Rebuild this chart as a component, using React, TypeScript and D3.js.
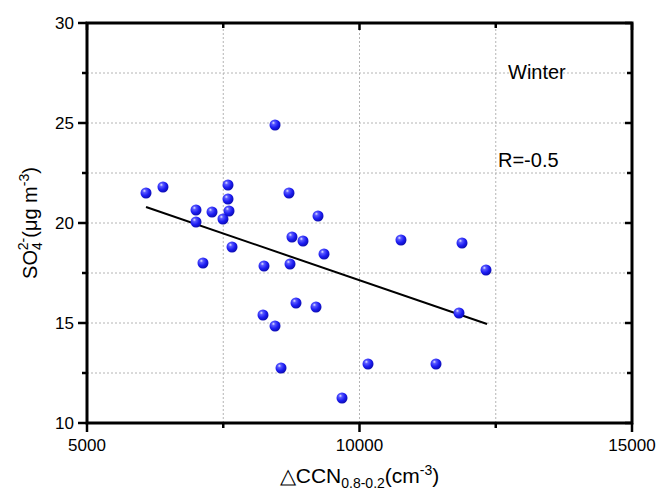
import React from 'react';
import * as d3 from 'd3';

// ΔCCN (cm-3) vs SO4 2- (µg m-3), winter samples
const ccnValues = [
  6083, 6394, 7000, 7000, 7128, 7294, 7495, 7587, 7587, 7606,
  7661, 8450, 8706, 8248, 8229, 8450, 8761, 8725, 8963, 8835,
  8560, 9239, 9349, 9202, 9679, 10156, 10761, 11881, 12321, 11826, 11404,
];
const so4Values = [
  21.5, 21.8, 20.65, 20.05, 18.0, 20.55, 20.2, 21.9, 21.2, 20.6,
  18.8, 24.9, 21.5, 17.85, 15.4, 14.85, 19.3, 17.95, 19.1, 16.0,
  12.75, 20.35, 18.45, 15.8, 11.25, 12.95, 19.15, 19.0, 17.65, 15.5, 12.95,
];

// linear fit end points
const fitX = [6083, 12340];
const fitY = [20.8, 14.95];

const xMajorTicks = [5000, 10000, 15000];
const xMinorTicks = [7500, 12500];
const yMajorTicks = [10, 15, 20, 25, 30];
const yMinorTicks = [12.5, 17.5, 22.5, 27.5];

const seasonLabel = 'Winter';
const rLabel = 'R=-0.5';

const W = 658;
const H = 488;
const FONT = "Arial, 'Liberation Sans', sans-serif";

const App = () => {
  const x = d3.scaleLinear().domain([5000, 15000]).range([87, 632]);
  const y = d3.scaleLinear().domain([10, 30]).range([423, 23]);
  const [x0, x1] = x.range();
  const [y0, y1] = y.range();

  const fitPath = d3.line<number>()
    .x((d) => x(d))
    .y((_, i) => y(fitY[i]))(fitX);

  const gridY = [...yMajorTicks, ...yMinorTicks].filter((v) => v > 10 && v < 30);
  const gridX = [...xMajorTicks, ...xMinorTicks].filter((v) => v > 5000 && v < 15000);

  const points = ccnValues.map((c, i) => ({ c, s: so4Values[i] }));

  return (
    <svg width={W} height={H} style={{ position: 'absolute', left: 0, top: 0, background: '#fff' }}>
      <defs>
        <radialGradient id="ball" cx="0.38" cy="0.35" r="0.7" fx="0.35" fy="0.3">
          <stop offset="0%" stopColor="#e6e6ff" />
          <stop offset="22%" stopColor="#5a5aff" />
          <stop offset="60%" stopColor="#1c1cf2" />
          <stop offset="100%" stopColor="#0a0aa8" />
        </radialGradient>
      </defs>

      {/* grid */}
      <g stroke="#b4b4b4" strokeWidth={1} strokeDasharray="2,2">
        {gridY.map((v) => (
          <line key={'gy' + v} x1={x0} x2={x1} y1={y(v)} y2={y(v)} />
        ))}
        {gridX.map((v) => (
          <line key={'gx' + v} x1={x(v)} x2={x(v)} y1={y0} y2={y1} />
        ))}
      </g>

      {/* frame */}
      <rect x={x0} y={y1} width={x1 - x0} height={y0 - y1} fill="none" stroke="#000" strokeWidth={3} />

      {/* ticks */}
      <g stroke="#000" strokeWidth={2.5}>
        {yMajorTicks.map((v) => (
          <g key={'ym' + v}>
            <line x1={x0 - 9} x2={x0} y1={y(v)} y2={y(v)} />
            <line x1={x1 - 7} x2={x1} y1={y(v)} y2={y(v)} />
          </g>
        ))}
        {yMinorTicks.map((v) => (
          <g key={'yn' + v}>
            <line x1={x0 - 5} x2={x0} y1={y(v)} y2={y(v)} />
            <line x1={x1 - 5} x2={x1} y1={y(v)} y2={y(v)} />
          </g>
        ))}
        {xMajorTicks.map((v) => (
          <g key={'xm' + v}>
            <line x1={x(v)} x2={x(v)} y1={y0} y2={y0 + 9} />
            <line x1={x(v)} x2={x(v)} y1={y1} y2={y1 + 7} />
          </g>
        ))}
        {xMinorTicks.map((v) => (
          <g key={'xn' + v}>
            <line x1={x(v)} x2={x(v)} y1={y0} y2={y0 + 5} />
            <line x1={x(v)} x2={x(v)} y1={y1} y2={y1 + 5} />
          </g>
        ))}
      </g>

      {/* tick labels */}
      <g fontFamily={FONT} fontSize={17} fill="#000">
        {yMajorTicks.map((v) => (
          <text key={'yl' + v} x={x0 - 13} y={y(v)} dy="0.36em" textAnchor="end">
            {v}
          </text>
        ))}
        {xMajorTicks.map((v) => (
          <text key={'xl' + v} x={x(v)} y={451} textAnchor="middle">
            {v}
          </text>
        ))}
      </g>

      {/* fit line */}
      <path d={fitPath || ''} fill="none" stroke="#000" strokeWidth={2} />

      {/* points */}
      {points.map((p, i) => (
        <circle key={i} cx={x(p.c)} cy={y(p.s)} r={5.5} fill="url(#ball)" />
      ))}

      {/* annotations */}
      <text x={508} y={79} fontFamily={FONT} fontSize={20}>{seasonLabel}</text>
      <text x={498} y={167} fontFamily={FONT} fontSize={20}>{rLabel}</text>

      {/* x title */}
      <text x={(x0 + x1) / 2} y={483} textAnchor="middle" fontFamily={FONT} fontSize={21}>
        <tspan>△CCN</tspan>
        <tspan fontSize={14} dy={5}>0.8-0.2</tspan>
        <tspan dy={-5}>(cm</tspan>
        <tspan fontSize={14} dy={-8}>-3</tspan>
        <tspan dy={8}>)</tspan>
      </text>

      {/* y title */}
      <text
        transform={`translate(37, ${(y0 + y1) / 2}) rotate(-90)`}
        textAnchor="middle"
        fontFamily={FONT}
        fontSize={20}
      >
        <tspan>SO</tspan>
        <tspan fontSize={14} dy={5}>4</tspan>
        <tspan fontSize={14} dx={-8} dy={-14}>2-</tspan>
        <tspan dy={9}>(μg m</tspan>
        <tspan fontSize={14} dy={-8}>-3</tspan>
        <tspan dy={8}>)</tspan>
      </text>
    </svg>
  );
};

export default App;
